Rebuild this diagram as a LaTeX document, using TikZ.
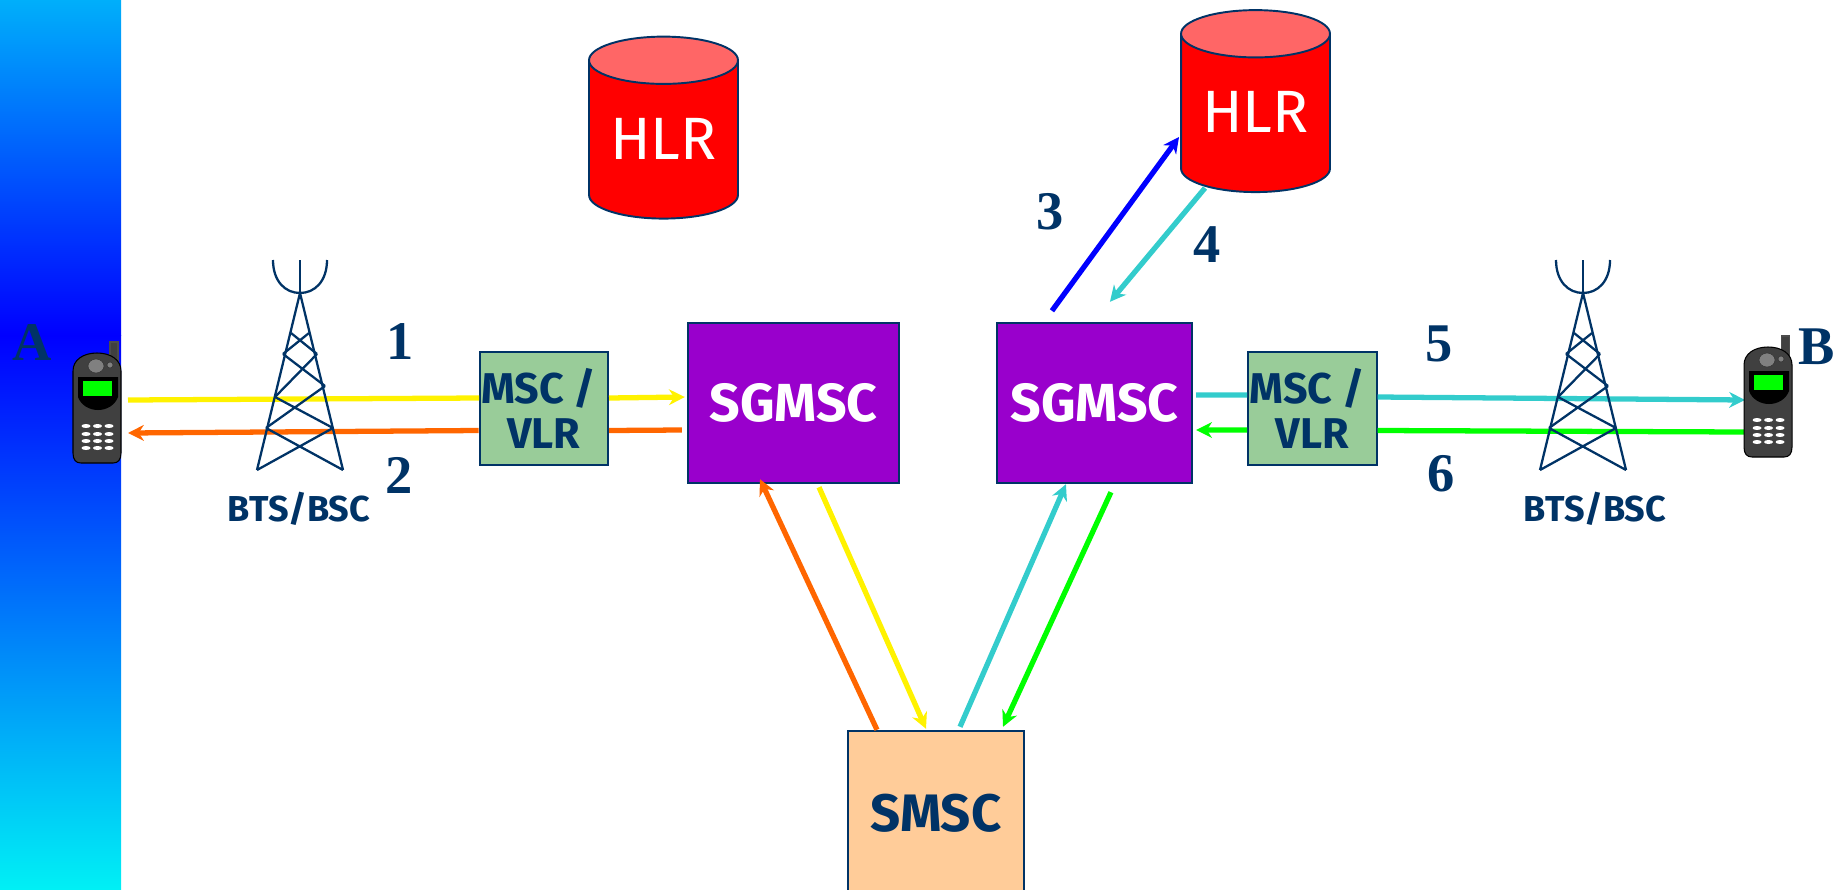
\documentclass[tikz,border=0pt]{standalone}
\usepackage{fontspec}
\setmainfont{Liberation Serif}
\newfontfamily\labelfont{Fira Sans}
\usetikzlibrary{shapes.geometric, arrows, arrows.meta}
\definecolor{navy}{HTML}{003366}
\definecolor{purplebox}{HTML}{9900CC}
\definecolor{greenbox}{HTML}{99CC99}
\definecolor{peachbox}{HTML}{FFCC99}
\definecolor{hlrtop}{HTML}{FF6666}
\definecolor{tealline}{HTML}{33CCCC}
\definecolor{orangeline}{HTML}{FF6600}
\definecolor{phonegrey}{HTML}{404040}
\definecolor{bandtop}{HTML}{00AFFA}
\definecolor{bandbottom}{HTML}{00F0F5}
\tikzstyle{sgmsc} = [rectangle, minimum height=3.2cm, draw=navy, line width=1.4pt, fill=purplebox, text=white, font=\labelfont\bfseries\fontsize{30.5}{32}\selectfont]
\tikzstyle{msc} = [rectangle, minimum width=2.57cm, minimum height=2.26cm, draw=navy, line width=1.1pt, fill=greenbox, text=navy, align=center, inner sep=0pt, font=\labelfont\bfseries\fontsize{24.5}{25.5}\selectfont]
\tikzstyle{smsc} = [rectangle, minimum width=3.52cm, minimum height=3.28cm, draw=navy, line width=1.4pt, fill=peachbox, text=navy, font=\labelfont\bfseries\fontsize{30}{32}\selectfont]
\tikzstyle{hlr} = [cylinder, shape border rotate=90, aspect=0.4, minimum width=2.98cm, minimum height=3.64cm, draw=navy, line width=1.1pt, cylinder uses custom fill, cylinder body fill=red, cylinder end fill=hlrtop, text=white, font=\labelfont\fontsize{34}{36}\selectfont]
\tikzstyle{num} = [text=navy, font=\bfseries\fontsize{31}{31}\selectfont]
\tikzstyle{bts} = [text=navy, font=\labelfont\bfseries\fontsize{20.5}{22}\selectfont]
\tikzstyle{arrow} = [line width=3pt,-{Stealth[length=9pt,width=9pt]}]
\tikzstyle{plain} = [line width=3pt]
\tikzstyle{mast} = [draw=navy, line width=1.3pt]
\tikzset{
  pics/tower/.style={code={
    \draw [mast] (0,-33) -- (0,0);
    \draw [mast] (-27,-33) .. controls (-27,-12) and (-15,0) .. (0,0) .. controls (15,0) and (27,-12) .. (27,-33);
    \draw [mast] (-43,177) -- (0,0) -- (43,177);
    \draw [mast] (-9,40) -- (17,61) (9,40) -- (-17,61);
    \draw [mast] (-17,61) -- (25,93) (17,61) -- (-25,104);
    \draw [mast] (-25,104) -- (33,135) (25,93) -- (-34,135);
    \draw [mast] (-34,135) -- (43,177) (33,135) -- (-43,177);
  }},
  pics/phone/.style={code={
    \draw [fill=phonegrey, draw=black!70, line width=0.6pt] (37,12) rectangle (45,-11);
    \draw [fill=phonegrey, draw=black, line width=0.6pt] (0,18) .. controls (0,7) and (10,0) .. (24,0) .. controls (38,0) and (48,7) .. (48,18) -- (48,100) .. controls (48,107) and (45,110) .. (40,110) -- (8,110) .. controls (3,110) and (0,107) .. (0,100) -- cycle;
    \fill [black] (5,24) -- (45,24) -- (45,44) .. controls (42,52) and (34,57) .. (25,57) .. controls (16,57) and (8,52) .. (5,44) -- cycle;
    \fill [green] (10,28) rectangle (39,43);
    \draw [fill=gray, draw=black!80, line width=0.3pt] (23,13) ellipse [x radius=0.16cm, y radius=0.14cm];
    \draw [fill=gray, draw=black!80, line width=0.3pt] (37,12) circle [radius=0.06cm];
    \foreach \keyy in {73,81,88,95}
      \foreach \keyx in {13,24.5,36}
        \fill [white] (\keyx,\keyy) ellipse [x radius=0.09cm, y radius=0.04cm];
  }}
}

\begin{document}
\begin{tikzpicture}[x=0.02cm, y=-0.02cm, node distance=2cm]
    \useasboundingbox (0,0) rectangle (1834,889);

    % Side band
    \shade [top color=bandtop, bottom color=blue] (0,0) rectangle (121,335);
    \shade [top color=blue, bottom color=bandbottom] (0,335) rectangle (121,889);

    % Nodes
    \node (hlra) [hlr] at (663.5,144.5) {\raisebox{0.24cm}{HLR}};
    \node (hlrb) [hlr] at (1255.5,118) {\raisebox{0.24cm}{HLR}};
    \node (sgmsca) [sgmsc, minimum width=4.22cm] at (793.5,403) {SGMSC};
    \node (sgmscb) [sgmsc, minimum width=3.9cm, right of=sgmsca, xshift=4.02cm] {SGMSC};
    \node (msca) [msc, left of=sgmsca, xshift=-2.995cm, yshift=-0.11cm] {MSC /\hspace*{0.2cm}\\VLR};
    \node (mscb) [msc, right of=sgmscb, xshift=2.36cm, yshift=-0.11cm] {MSC /\hspace*{0.2cm}\\VLR};
    \node (smscbox) [smsc] at (936,813) {SMSC};
    \coordinate (phonea) at (73,353);
    \coordinate (phoneb) at (1744,347);

    % Arrows
    \draw [plain, yellow] ([shift={(55,47)}]phonea) -- ([shift={(0.5,-10.5)}]msca.west);
    \draw [arrow, yellow] ([shift={(0,-10.5)}]msca.east) -- ([shift={(-2,-6)}]sgmsca.west);
    \draw [plain, orangeline] ([shift={(-5,27)}]sgmsca.west) -- ([shift={(0,22)}]msca.east);
    \draw [arrow, orangeline] ([shift={(0,22)}]msca.west) -- ([shift={(55,80)}]phonea);
    \draw [arrow, blue] ([shift={(-42.5,-11)}]sgmscb.north) -- ([shift={(-76.5,19)}]hlrb.center);
    \draw [arrow, tealline] ([shift={(-50.5,70)}]hlrb.center) -- ([shift={(15.5,-20)}]sgmscb.north);
    \draw [plain, tealline] ([shift={(3,-8)}]sgmscb.east) -- ([shift={(0,-13.5)}]mscb.west);
    \draw [arrow, tealline] ([shift={(0,-11.5)}]mscb.east) -- ([shift={(1,53)}]phoneb);
    \draw [plain, green] ([shift={(0,85)}]phoneb) -- ([shift={(0,22)}]mscb.east);
    \draw [arrow, green] ([shift={(0,21.5)}]mscb.west) -- ([shift={(3,27)}]sgmscb.east);
    \draw [arrow, orangeline] ([shift={(-59,0)}]smscbox.north) -- ([shift={(-33.5,-5)}]sgmsca.south);
    \draw [arrow, yellow] ([shift={(25.5,3)}]sgmsca.south) -- ([shift={(-10,-1)}]smscbox.north);
    \draw [arrow, tealline] ([shift={(24,-3)}]smscbox.north) -- ([shift={(-28.5,0)}]sgmscb.south);
    \draw [arrow, green] ([shift={(16.5,8)}]sgmscb.south) -- ([shift={(67,-3)}]smscbox.north);

    % Towers and phones
    \pic at (300,293) {tower};
    \pic at (1583,293) {tower};
    \pic at (phonea) {phone};
    \pic at (phoneb) {phone};

    % Labels
    \node (labela) [num] at (32,343) {A};
    \node (labelb) [num] at (1817,347) {B};
    \node (step1) [num] at (400,342) {1};
    \node (step2) [num] at (399,475) {2};
    \node (step3) [num] at (1050,212) {3};
    \node (step4) [num] at (1207,245) {4};
    \node (step5) [num] at (1439,344) {5};
    \node (step6) [num] at (1441,474) {6};
    \node (btsa) [bts] at (299,509) {BTS/BSC};
    \node (btsb) [bts] at (1595,509) {BTS/BSC};

    \end{tikzpicture}
\end{document}
